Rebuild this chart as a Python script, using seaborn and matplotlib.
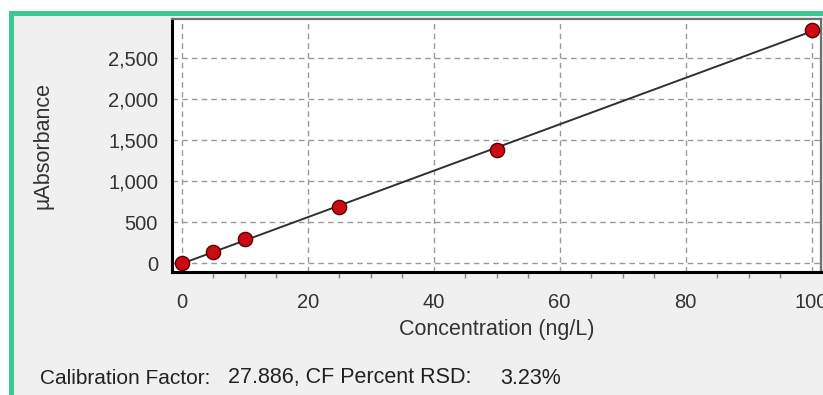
import numpy as np
import pandas as pd
import matplotlib
matplotlib.use("Agg")
import matplotlib.pyplot as plt
import seaborn as sns
from matplotlib.patches import Rectangle
from matplotlib.ticker import MultipleLocator, FuncFormatter

# calibration standards
conc = [0, 5, 10, 25, 50, 100]
absorbance = [5, 141, 293, 690, 1382, 2845]
x_ticks = [0, 20, 40, 60, 80, 100]
y_ticks = [0, 500, 1000, 1500, 2000, 2500]
cal_factor = "27.886"
cf_rsd = "3.23%"

df = pd.DataFrame({"conc": conc, "abs": absorbance})

sns.set_style("white")
plt.rcParams["font.family"] = ["Liberation Sans", "DejaVu Sans"]

W, H = 823, 395
fig = plt.figure(figsize=(W / 100, H / 100), dpi=100, facecolor="#f0f0f0")

# green frame round the panel (top and left edges)
fig.patches.append(Rectangle((0, 1 - 11 / H), 1, 11 / H, transform=fig.transFigure,
                             facecolor="white", edgecolor="none", zorder=0))
fig.patches.append(Rectangle((0, 0), 9 / W, 1, transform=fig.transFigure,
                             facecolor="white", edgecolor="none", zorder=0))
fig.patches.append(Rectangle((9 / W, 1 - 16 / H), 1, 5 / H, transform=fig.transFigure,
                             facecolor="#3cc98f", edgecolor="none", zorder=1))
fig.patches.append(Rectangle((9 / W, 0), 5 / W, 1 - 11 / H, transform=fig.transFigure,
                             facecolor="#3cc98f", edgecolor="none", zorder=1))

ax = fig.add_axes([172 / W, 1 - 272 / H, (821 - 172) / W, (272 - 19) / H])
ax.set_facecolor("white")

# fitted line, then the standards on top
sns.regplot(data=df, x="conc", y="abs", ax=ax, scatter=False, ci=None, truncate=True,
            line_kws=dict(color="#303030", lw=1.4, zorder=3))
sns.scatterplot(data=df, x="conc", y="abs", ax=ax, s=105, color="#cc0a14",
                edgecolor="#5a0000", linewidth=1, zorder=4, clip_on=False)

ax.set_xlim(-1.55, 101.5)
ax.set_ylim(-106, 2980)
ax.set_xticks(x_ticks)
ax.set_yticks(y_ticks)
ax.xaxis.set_minor_locator(MultipleLocator(5))
ax.yaxis.set_major_formatter(FuncFormatter(lambda v, p: f"{int(v):,}"))

ax.grid(True, which="major", color="#999999", linestyle=(0, (4, 3)), linewidth=1)
ax.tick_params(axis="both", which="major", direction="out", length=7, width=1,
               color="#808080", labelsize=14.5, labelcolor="#333333")
ax.tick_params(axis="x", which="major", pad=8)
ax.tick_params(axis="y", which="major", pad=3)
ax.tick_params(axis="x", which="minor", direction="out", length=4, width=1,
               color="#808080", bottom=True)

for side in ["left", "bottom"]:
    ax.spines[side].set_color("black")
    ax.spines[side].set_linewidth(2.2)
for side in ["top", "right"]:
    ax.spines[side].set_color("#707070")
    ax.spines[side].set_linewidth(1.6)

ax.set_xlabel("Concentration (ng/L)", fontsize=15.5, color="#333333", labelpad=5)
ax.set_ylabel("\u00b5Absorbance", fontsize=15.5, color="#333333", labelpad=39)

fig.text(40 / W, 1 - 378 / H, "Calibration Factor:", fontsize=15, color="#222222", va="center")
fig.text(228 / W, 1 - 378 / H, f"{cal_factor}, CF Percent RSD:", fontsize=15.5,
         color="#222222", va="center")
fig.text(500 / W, 1 - 378 / H, cf_rsd, fontsize=15.5, color="#222222", va="center")

fig.savefig("out.png", dpi=100, facecolor=fig.get_facecolor())
